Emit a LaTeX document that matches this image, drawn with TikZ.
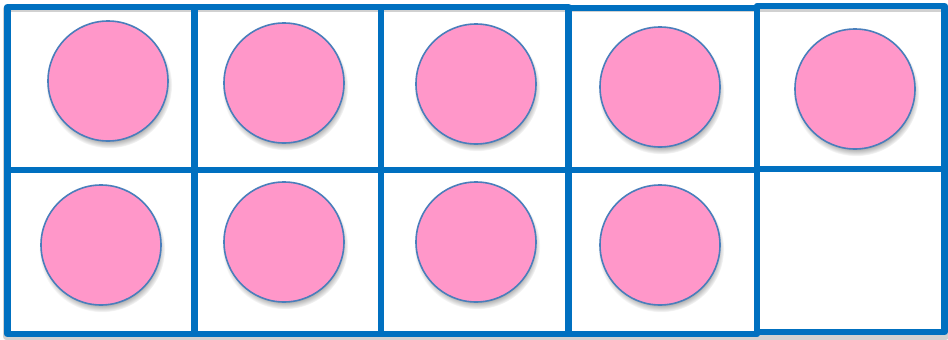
\documentclass[tikz,border=0pt]{standalone}
\usetikzlibrary{shadows}
\definecolor{frameblue}{HTML}{0070C0}
\definecolor{dotpink}{HTML}{FF97C9}
\definecolor{dotedge}{HTML}{4A7EBB}
\tikzset{
  cellbox/.style={draw=frameblue, line width=6.5pt, line join=round},
  cellshade/.style={draw=black!18, line width=6.5pt, line join=round},
  counter/.style={circle, minimum size=120pt, inner sep=0pt, fill=dotpink, draw=dotedge, line width=1.6pt,
    circular drop shadow={shadow xshift=1pt, shadow yshift=-4pt, shadow scale=1.05, opacity=0.8}},
}
\begin{document}
\begin{tikzpicture}[x=1pt,y=-1pt]
\useasboundingbox (0,0) rectangle (948,340);
% faint frame shadow
\draw[cellshade] (6,9) rectangle (946,336.5);
% top row boxes
\draw[cellbox] (7.5,7) rectangle (194.5,170) coordinate (b1);
\draw[cellbox] (194.5,7) rectangle (381,170) coordinate (b2);
\draw[cellbox] (381,7) rectangle (568.5,170) coordinate (b3);
\draw[cellbox] (568.5,8) rectangle (757,170) coordinate (b4);
% bottom row boxes
\draw[cellbox] (7.5,170) rectangle (194.5,334) coordinate (b6);
\draw[cellbox] (194.5,170) rectangle (381,334) coordinate (b7);
\draw[cellbox] (381,170) rectangle (568.5,334) coordinate (b8);
\draw[cellbox] (568.5,170) rectangle (757,334) coordinate (b9);
\draw[cellbox] (757,169) rectangle (944.5,332) coordinate (b10);
\draw[cellbox] (757,6) rectangle (944.5,169) coordinate (b5);
% counters
\node[counter] (c1) at (108,81) {};
\node[counter] (c2) at (284,83) {};
\node[counter] (c3) at (476,84) {};
\node[counter] (c4) at (660,87) {};
\node[counter] (c5) at (855,89) {};
\node[counter] (c6) at (101,245) {};
\node[counter] (c7) at (284,242) {};
\node[counter] (c8) at (476,242) {};
\node[counter] (c9) at (660,245) {};
\end{tikzpicture}
\end{document}
